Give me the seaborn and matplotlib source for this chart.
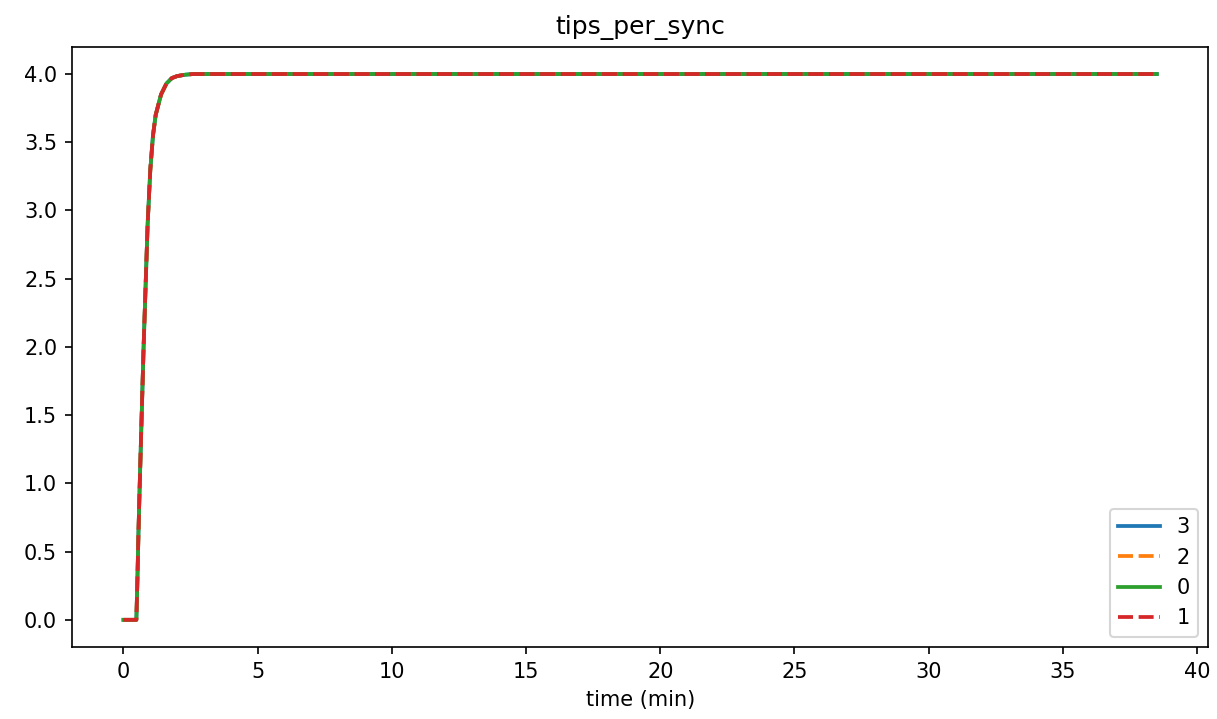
import pandas as pd
import matplotlib
matplotlib.use("Agg")
import matplotlib.pyplot as plt
import seaborn as sns

# time in minutes
time_min = [0.0, 0.1, 0.2, 0.3, 0.4, 0.48, 0.52, 0.56, 0.6, 0.65, 0.7, 0.75, 0.8,
            0.9, 1.0, 1.1, 1.2, 1.4, 1.6, 1.8, 2.0, 2.3, 2.6, 3.0, 5.0, 10.0,
            15.0, 20.0, 25.0, 30.0, 35.0, 38.5]
tips_node3 = [0.0, 0.0, 0.0, 0.0, 0.0, 0.0, 0.3, 0.65, 0.95, 1.3, 1.65, 2.0, 2.3,
              2.9, 3.3, 3.55, 3.7, 3.85, 3.93, 3.97, 3.985, 3.995, 4.0, 4.0, 4.0,
              4.0, 4.0, 4.0, 4.0, 4.0, 4.0, 4.0]
tips_node2 = list(tips_node3)
tips_node0 = list(tips_node3)
tips_node1 = list(tips_node3)

nodes = ["3", "2", "0", "1"]
series = [tips_node3, tips_node2, tips_node0, tips_node1]

rows = []
for node, vals in zip(nodes, series):
    for t, v in zip(time_min, vals):
        rows.append({"time (min)": t, "tips": v, "node": node})
df = pd.DataFrame(rows)

fig = plt.figure(figsize=(1217 / 150, 719 / 150), dpi=150)
ax = fig.add_axes([0.059, 0.1, 0.934, 0.835])

sns.lineplot(
    data=df, x="time (min)", y="tips", hue="node", style="node",
    hue_order=nodes, style_order=nodes, palette="tab10",
    dashes={"3": "", "2": (4, 1.5), "0": "", "1": (4, 1.5)},
    linewidth=1.8, ax=ax,
)
ax.set_ylabel("")
ax.set_title("tips_per_sync")
sns.move_legend(ax, "lower right", title=None)

plt.savefig("out.png", dpi=150)
